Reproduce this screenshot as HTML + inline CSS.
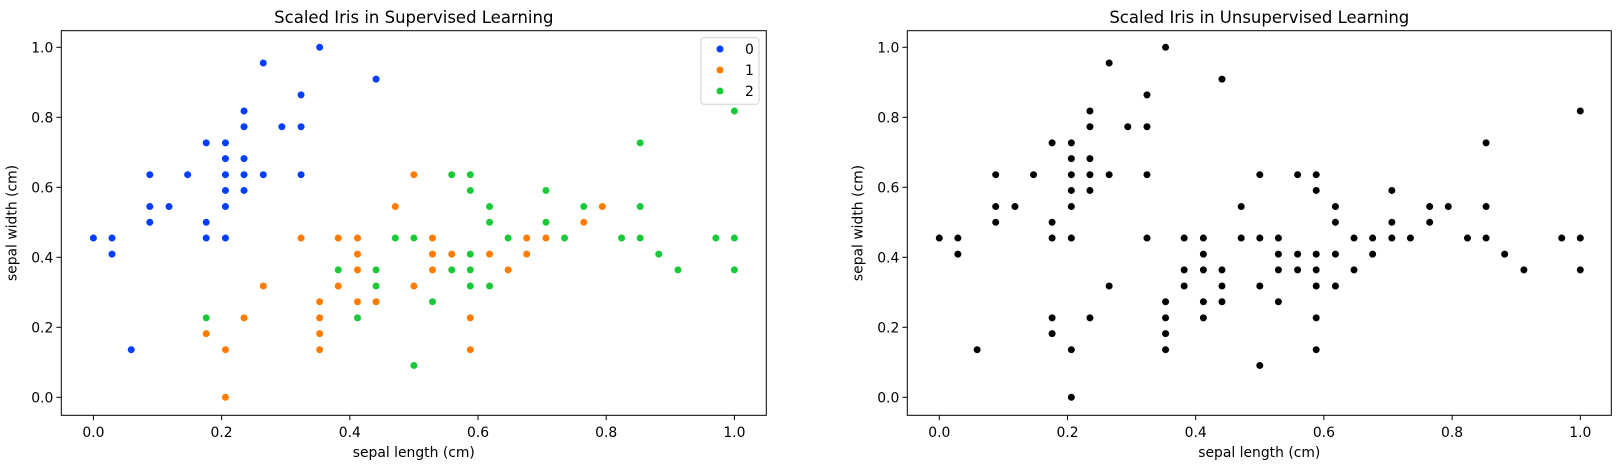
<!DOCTYPE html>
<html><head><meta charset="utf-8"><style>
body{margin:0;background:#fff;}
svg{display:block;font-family:"DejaVu Sans","Liberation Sans",sans-serif;}
</style></head><body>
<svg id="fig" width="1621" height="468" viewBox="0 0 1621 468" xmlns="http://www.w3.org/2000/svg">
<rect width="1621" height="468" fill="#fff"/>
</svg>
<script>
const sepalLengthBlue=[0.353,0.265,0.441,0.324,0.235,0.235,0.294,0.324,0.176,0.206,0.206,0.235,0.088,0.147,0.206,0.235,0.265,0.324,0.206,0.235,0.088,0.118,0.206,0.088,0.176,0,0.029,0.176,0.206,0.029,0.059];
const sepalWidthBlue=[1,0.955,0.909,0.864,0.818,0.773,0.773,0.773,0.727,0.727,0.682,0.682,0.636,0.636,0.636,0.636,0.636,0.636,0.591,0.591,0.545,0.545,0.545,0.5,0.5,0.455,0.455,0.455,0.455,0.409,0.136];
const sepalLengthOrange=[0.471,0.324,0.382,0.412,0.412,0.412,0.265,0.382,0.353,0.412,0.441,0.235,0.353,0.176,0.353,0.206,0.353,0.206,0.5,0.794,0.765,0.529,0.676,0.706,0.529,0.559,0.618,0.676,0.529,0.647,0.5,0.588,0.588];
const sepalWidthOrange=[0.545,0.455,0.455,0.455,0.409,0.364,0.318,0.318,0.273,0.273,0.273,0.227,0.227,0.182,0.182,0.136,0.136,0,0.636,0.545,0.5,0.455,0.455,0.455,0.409,0.409,0.409,0.409,0.364,0.364,0.318,0.227,0.136];
const sepalLengthGreen=[0.471,0.382,0.441,0.441,0.176,0.412,1,0.853,0.559,0.588,0.588,0.706,0.618,0.765,0.853,0.618,0.706,0.5,0.647,0.735,0.824,0.853,0.971,1,0.588,0.882,0.559,0.588,0.912,1,0.588,0.618,0.529,0.5];
const sepalWidthGreen=[0.455,0.364,0.364,0.318,0.227,0.227,0.818,0.727,0.636,0.636,0.591,0.591,0.545,0.545,0.545,0.5,0.5,0.455,0.455,0.455,0.455,0.455,0.455,0.455,0.409,0.409,0.364,0.364,0.364,0.364,0.318,0.318,0.273,0.091];
const classLabels=["0","1","2"];
const classColors=["#023eff","#ff7c00","#1ac938"];
const tickValues=[0,0.2,0.4,0.6,0.8,1.0];
const tickLabels=["0.0","0.2","0.4","0.6","0.8","1.0"];

const NS="http://www.w3.org/2000/svg";
const svg=document.getElementById('fig');
function mk(tag,attrs,parent){const e=document.createElementNS(NS,tag);for(const k in attrs)e.setAttribute(k,attrs[k]);(parent||svg).appendChild(e);return e;}
const axTop=30.7,axBottom=415.3;
function yScale(v){return 397.3-v*350;}
function makeX(zero){return v=>zero+v*641;}

function drawAxes(left,right,zero,title,gName){
  const g=mk('g',{});
  
  
  const xs=makeX(zero);
  const t=mk('text',{x:(left+right)/2,y:23,'text-anchor':'middle','font-size':'16.5'},g);t.textContent=title;
  
  
  tickValues.forEach((v,i)=>{
    const x=xs(v);
    mk('line',{x1:x,x2:x,y1:axBottom,y2:axBottom+4.9,stroke:'#000','stroke-width':1},g);
    const tl=mk('text',{x:x,y:437,'text-anchor':'middle','font-size':'13.9'},g);tl.textContent=tickLabels[i];
    
    
    const y=yScale(v);
    mk('line',{x1:left-4.9,x2:left,y1:y,y2:y,stroke:'#000','stroke-width':1},g);
    const yl=mk('text',{x:left-8,y:y+5,'text-anchor':'end','font-size':'13.9'},g);yl.textContent=tickLabels[i];
    
    
  });
  const xl=mk('text',{x:(left+right)/2,y:457,'text-anchor':'middle','font-size':'13.9'},g);xl.textContent='sepal length (cm)';
  
  
  const yx=left-45, yc=(axTop+axBottom)/2;
  const yt=mk('text',{x:yx,y:yc,'text-anchor':'middle','font-size':'13.9',transform:'rotate(-90 '+yx+' '+yc+')'},g);yt.textContent='sepal width (cm)';
  
  
  return {g:g,xs:xs};
}
function dots(g,xs,xa,ya,color,name){
  xa.forEach((v,i)=>{
    const c=mk('circle',{cx:xs(v),cy:yScale(ya[i]),r:3.8,fill:color,stroke:'#fff','stroke-width':0.6},g);
    
    
  });
}
function frame(g,left,right){
  const r=mk('rect',{x:left,y:axTop,width:right-left,height:axBottom-axTop,fill:'none',stroke:'#000','stroke-width':1},g);
  
  
}

const L=drawAxes(61.3,766.3,93.4,'Scaled Iris in Supervised Learning','supervised-plot');
dots(L.g,L.xs,sepalLengthBlue,sepalWidthBlue,classColors[0],'point-class-0');
dots(L.g,L.xs,sepalLengthOrange,sepalWidthOrange,classColors[1],'point-class-1');
dots(L.g,L.xs,sepalLengthGreen,sepalWidthGreen,classColors[2],'point-class-2');
frame(L.g,61.3,766.3);
const leg=mk('g',{},L.g);


mk('rect',{x:701,y:37.7,width:58,height:66.6,rx:3,fill:'#fff','fill-opacity':0.8,stroke:'#d0d0d0','stroke-width':1},leg);
classLabels.forEach((lab,i)=>{
  const y=49+i*21;
  const e=mk('g',{},leg);
  
  
  mk('circle',{cx:720,cy:y,r:3.8,fill:classColors[i],stroke:'#fff','stroke-width':0.6},e);
  const t=mk('text',{x:745,y:y+5,'font-size':'13.9'},e);t.textContent=lab;
});

const R=drawAxes(907.3,1611.3,939.3,'Scaled Iris in Unsupervised Learning','unsupervised-plot');
dots(R.g,R.xs,sepalLengthBlue,sepalWidthBlue,'#000','point');
dots(R.g,R.xs,sepalLengthOrange,sepalWidthOrange,'#000','point');
dots(R.g,R.xs,sepalLengthGreen,sepalWidthGreen,'#000','point');
frame(R.g,907.3,1611.3);
</script>
</body></html>
